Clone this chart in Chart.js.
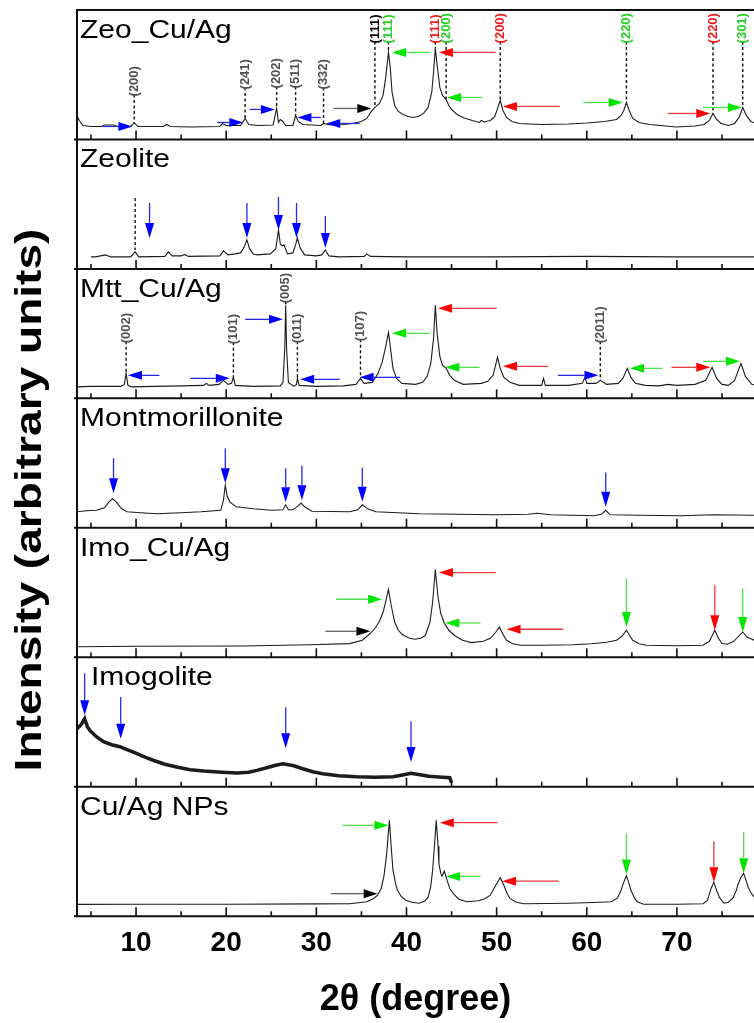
<!DOCTYPE html>
<html>
<head>
<meta charset="utf-8">
<script src="https://cdn.jsdelivr.net/npm/chart.js@4.4.1/dist/chart.umd.min.js"></script>
<style>
  html, body { margin: 0; padding: 0; background: #fff; overflow: hidden; }
  canvas { display: block; }
</style>
</head>
<body>
<canvas id="xrd" width="754" height="1023"></canvas>
<script>
// 2θ window and labelled ticks
const xMin = 3.45, xMax = 78.55;
const tickLabels = [10, 20, 30, 40, 50, 60, 70];

// panels, top to bottom
const panelNames = ['Zeo_Cu/Ag', 'Zeolite', 'Mtt_Cu/Ag', 'Montmorillonite', 'Imo_Cu/Ag', 'Imogolite', 'Cu/Ag NPs'];

// patterns as [2θ, intensity]; intensity in panel units (0 = panel floor, 129.4 = panel top)
const zeoCuAg = [[3.45,24],[3.7,19],[4.1,14],[5.0,13],[6.2,13],[6.5,14.5],[7.5,14.5],[8.0,13],[9.4,13],[9.8,16.5],[10.2,13],
  [13.0,13],[13.4,15],[13.8,13],[16.0,12.5],[19.3,13],[19.6,16],[20.0,14],[21.6,14],[22.1,21],[22.5,15],[23.5,14],
  [25.2,14.5],[25.6,31],[25.8,17],[26.0,20],[26.3,18],[26.6,14],[27.4,14],[27.7,24],[28.0,18],[28.5,15],[30.5,14],
  [30.8,16],[31.5,14.5],[33.0,15],[34.0,16],[35.0,18],[35.6,21],[36.1,28],[36.5,32],[37.0,36],[37.4,44],[37.7,62],
  [38.0,87],[38.2,72],[38.4,47],[38.7,34],[39.1,28],[39.6,25],[40.2,23],[40.7,22],[41.3,23],[41.9,26],[42.4,32],
  [42.8,47],[43.0,67],[43.2,91],[43.4,74],[43.7,52],[44.0,44],[44.4,40],[44.7,34],[45.0,30],[45.6,25],[46.4,21.5],
  [47.3,19],[48.1,17],[48.3,19],[48.6,17.5],[49.3,19],[49.8,23],[50.1,31],[50.4,39],[50.7,29],[51.1,22],[51.7,18],
  [52.5,16],[55.0,15],[58.0,15.5],[60.0,16.5],[62.0,18],[63.3,20],[63.8,24],[64.1,29],[64.4,37],[64.7,29],[65.1,21],
  [65.8,17],[67.0,15],[69.9,12.5],[72.0,13.5],[73.0,15],[73.6,19],[74.0,26],[74.4,20],[74.9,16],[75.7,14],[76.4,16],
  [76.9,22],[77.3,32],[77.7,24],[78.2,18],[79.0,15]];

const zeolite = [[5.0,12],[5.5,12],[6.6,14],[7.2,12],[9.4,12],[9.9,17],[10.3,12],[13.2,12.5],[13.6,17],[14.0,13],
  [15.0,13],[15.4,14.5],[15.8,12.5],[19.3,13],[19.7,18],[20.2,14],[21.0,15],[21.6,16],[22.0,22],[22.3,29],[22.6,20],
  [23.0,15],[23.4,14],[24.9,15],[25.5,20],[25.8,39],[26.0,25],[26.2,23],[26.4,24],[26.8,15],[27.4,16],[27.7,24],
  [27.9,31],[28.2,21],[28.7,14],[30.0,13],[30.6,14],[31.0,19],[31.4,13],[32.5,12],[35.3,12.5],[35.6,15],[36.0,12.5],
  [40,12],[50,12],[60,12.5],[70,12],[79,12]];

const mttCuAg = [[3.45,11.5],[5,12],[8.3,12],[8.7,14],[8.9,25],[9.1,13],[9.5,11.5],[12,12],[15,12.5],[17.5,13],[17.8,15],
  [18.1,13],[19.2,14],[19.7,18],[20.2,14],[20.6,15],[20.8,21.5],[21.0,13],[23,12],[26.0,12.5],[26.3,16],[26.5,50],
  [26.6,93],[26.7,50],[26.9,16],[27.5,12],[27.8,14],[27.9,20],[28.1,13],[30,12],[33,12.5],[34.4,14],[34.9,20],
  [35.3,15],[36.2,16],[36.8,24],[37.3,36],[37.7,52],[38.0,66],[38.2,52],[38.5,30],[38.9,20],[39.5,15],[41,14],
  [41.8,16],[42.3,22],[42.7,35],[43.0,60],[43.2,93],[43.4,65],[43.7,42],[44.0,33],[44.4,30],[44.8,23],[45.3,18],
  [46.3,14],[48.3,15],[49.0,17],[49.6,23],[50.1,41],[50.4,30],[50.8,21],[51.5,16],[52.5,13],[55.0,13],[55.2,20],
  [55.4,13],[58,13],[59.5,15],[59.8,21],[60.0,15],[61.0,15],[61.5,18],[62.2,14],[63.5,15],[64.0,20],[64.5,30],
  [64.9,21],[65.4,15],[66.5,13],[68,12.5],[69,14],[70,13],[72,14],[73.2,18],[73.9,31],[74.4,20],[75.0,14],[75.7,13],
  [76.4,18],[77.1,35],[77.6,22],[78.3,14],[79,13]];

const montmorillonite = [[3.45,16],[4.5,17],[5.6,17.5],[6.5,20],[7.0,26],[7.4,29],[7.8,26],[8.4,19],[9.0,16],[10.5,15],
  [12.3,14],[15,15],[17.2,16],[19.4,17.5],[19.7,28],[19.9,42.6],[20.1,32],[20.4,26],[21.1,21],[23,19],[25,17.5],
  [26.3,18],[26.6,23],[26.9,18],[27.4,18],[28.0,22],[28.3,24.8],[28.7,21],[29.5,16.5],[33.7,16],[34.6,18],[35.1,23],
  [35.7,19],[36.6,16],[41.4,14],[50,13],[53.5,13.5],[54.5,14.5],[56,13],[60.8,12],[61.6,13.5],[62.1,17.5],[62.6,13],
  [66,12.5],[70.4,12],[74,13],[79,12.5]];

const imoCuAg = [[3.45,10.5],[10,11],[22,11.3],[29.3,12.6],[33.7,13.7],[35.1,17],[36.0,24],[36.6,30],[37.0,36],[37.4,45],
  [37.7,56],[38.0,68],[38.3,52],[38.7,35],[39.1,27],[39.5,23],[40.2,19.5],[40.9,18],[41.6,19],[42.1,22],[42.6,35],
  [42.9,55],[43.2,87.7],[43.5,60],[43.8,44],[44.2,34],[44.7,27],[45.3,22],[46.2,17],[47.2,14.7],[48.5,16],[49.3,19],
  [49.9,25],[50.3,30.3],[50.7,23],[51.1,17],[51.8,13.5],[52.6,12],[55,12],[58.4,12.5],[60.5,13.5],[62.2,15],[63.3,17],
  [63.9,21],[64.4,27],[64.8,21],[65.1,17],[65.8,13.5],[66.6,12],[70,11.5],[72.9,12],[73.6,16],[74.2,27],[74.6,19],
  [75.0,13.7],[75.6,13],[76.3,16],[77.3,25.3],[77.8,20],[78.6,17],[79.5,13]];

const imogolite = [[3.45,58],[3.9,62],[4.3,68],[4.6,60],[4.9,56],[5.6,50],[6.4,45],[7.3,42],[8.2,40],[9.0,37],[10.1,33],
  [11.0,29.5],[11.9,26.5],[13.2,22.5],[14.5,19.7],[16.0,17],[17.5,15.7],[19.5,14.5],[21.2,13.7],[22.5,14.5],[23.4,16.4],
  [24.5,19],[25.5,21.5],[26.3,23],[27.5,21],[28.5,18],[29.6,15],[30.7,13],[32.5,11],[34.5,10],[36.5,9.5],[38.5,10],
  [39.7,12],[40.5,13.5],[41.5,12],[42.5,10.5],[44.0,9.5],[44.8,9],[45.0,4]];

const cuAgNPs = [[3.45,11.8],[10,12],[20,12],[30,12.3],[33.7,12.5],[35.6,14.5],[36.4,18],[36.8,21],[37.2,28],[37.5,40],
  [37.8,62],[38.1,95.8],[38.3,70],[38.5,46],[38.8,32],[39.0,26],[39.4,20],[39.9,16],[40.6,14],[41.4,13],[42.0,15],
  [42.4,19],[42.7,30],[42.9,46],[43.1,70],[43.3,95.8],[43.5,70],[43.6,52],[43.8,43],[43.95,40],[44.2,45],[44.5,36],
  [44.8,28],[45.2,22.5],[45.8,17],[46.7,14.5],[48.0,15.5],[48.7,17.5],[49.3,21],[49.9,31],[50.4,38.5],[50.8,31],
  [51.2,22],[51.5,17.5],[52.2,14],[53.0,12.5],[58,13],[61.5,14],[62.7,14.5],[63.4,18],[63.8,26],[64.1,34],[64.4,40.5],
  [64.7,32],[64.9,26],[65.3,18],[65.6,14.5],[66.3,12],[70,12],[72.9,12.5],[73.4,16],[73.6,22],[73.8,28],[74.1,34],
  [74.4,26],[74.7,19],[75.2,13],[75.7,14],[76.2,18],[76.6,26],[76.8,32.5],[77.1,39],[77.4,43],[77.7,35],[77.9,29],
  [78.3,22],[78.6,19],[79.2,14]];

const patterns = [zeoCuAg, zeolite, mttCuAg, montmorillonite, imoCuAg, imogolite, cuAgNPs];

// reflection labels: [panel, 2θ, text, colour key, height where the text starts]
const hklLabels = [
  [0, 9.8, '(200)', 'gray', 44], [0, 22.1, '(241)', 'gray', 51], [0, 25.6, '(202)', 'gray', 52],
  [0, 27.7, '(511)', 'gray', 52], [0, 30.8, '(332)', 'gray', 51],
  [0, 36.5, '(111)', 'black', 97], [0, 38.0, '(111)', 'green', 97], [0, 43.2, '(111)', 'red', 97],
  [0, 44.4, '(200)', 'green', 97], [0, 50.4, '(200)', 'red', 97], [0, 64.4, '(220)', 'green', 97],
  [0, 74.0, '(220)', 'red', 97], [0, 77.3, '(301)', 'green', 97],
  [2, 8.9, '(002)', 'gray', 56], [2, 20.8, '(101)', 'gray', 55], [2, 26.6, '(005)', 'gray', 96],
  [2, 27.9, '(011)', 'gray', 56], [2, 34.9, '(107)', 'gray', 58], [2, 61.5, '(2011)', 'gray', 56]
];

// unlabelled dotted marker: [panel, 2θ, from, to]
const dropLines = [[1, 9.9, 71, 19]];

// arrows: [panel, colour key, tail 2θ, tail height, head 2θ, head height]
const arrows = [
  [0,'blue',6.3,13,9.6,13], [0,'blue',19.0,17,21.9,17], [0,'blue',22.6,30,25.4,30], [0,'blue',30.5,22,27.9,22],
  [0,'blue',34.8,16,31.1,16], [0,'black',31.9,31,36.1,31], [0,'green',42.6,87,38.4,87], [0,'red',49.9,87,43.6,87],
  [0,'green',48.4,42,44.5,42], [0,'red',57.0,33,50.7,33], [0,'green',59.6,37,64.0,37], [0,'red',69.0,26,73.7,26],
  [0,'green',72.9,32,77.2,32],
  [1,'blue',11.5,66,11.5,31], [1,'blue',22.3,66,22.3,31], [1,'blue',25.8,72,25.8,39], [1,'blue',27.8,66,27.8,31],
  [1,'blue',31.0,53,31.0,21],
  [2,'blue',12.6,23,9.1,23], [2,'blue',16.0,20,20.4,20], [2,'blue',22.1,79,26.3,79], [2,'blue',32.6,19,28.2,19],
  [2,'blue',39.3,21,34.8,21], [2,'green',42.6,65,38.4,65], [2,'red',50.0,90,43.5,90], [2,'green',48.1,31,44.3,31],
  [2,'red',55.7,32,50.7,32], [2,'blue',56.8,23,61.3,23], [2,'green',68.4,30,64.8,30], [2,'red',69.4,31,73.7,31],
  [2,'green',72.9,37,77.0,37],
  [3,'blue',7.5,69.6,7.5,34.6], [3,'blue',19.9,79.6,19.9,44.6], [3,'blue',26.6,59.6,26.6,25.6],
  [3,'blue',28.4,62,28.4,27.6], [3,'blue',35.1,60,35.1,26], [3,'blue',62.1,55.3,62.1,21],
  [4,'green',32.2,58,37.3,58], [4,'black',31.0,26,36.0,26], [4,'red',49.9,84.7,43.6,84.7], [4,'green',48.2,34.3,44.3,34.3],
  [4,'red',57.4,28,51.1,28], [4,'green',64.4,78.7,64.4,30.3], [4,'red',74.2,72,74.2,27], [4,'green',77.3,68.7,77.3,25.3],
  [5,'blue',4.3,113.4,4.3,71.4], [5,'blue',8.3,89.7,8.3,48], [5,'blue',26.6,79.4,26.6,38.4], [5,'blue',40.5,65.4,40.5,24.7],
  [6,'green',32.9,90.8,38.0,90.8], [6,'red',50.1,93.5,43.7,93.5], [6,'green',48.2,39.8,44.4,39.8], [6,'red',56.9,35,50.6,35],
  [6,'black',31.6,22.5,36.8,22.5], [6,'green',64.4,82.5,64.4,41.8], [6,'red',74.1,75,74.1,34], [6,'green',77.4,84,77.4,43]
];

const FONT = '"Liberation Sans", Arial, Helvetica, sans-serif';
const textColors = { gray: '#505050', black: '#000000', green: '#22d022', red: '#ee1c1c' };
const arrowColors = {            // [shaft, head]
  blue:  ['#2a2ae6', '#0000ff'],
  green: ['#4ee04e', '#00e600'],
  red:   ['#ee3a3a', '#ff0000'],
  black: ['#606060', '#000000']
};

// read a pattern at a given 2θ (for the end of a label's leader line)
function curveAt(data, x) {
  for (let i = 1; i < data.length; i++) {
    if (data[i][0] >= x) {
      const [x0, y0] = data[i - 1], [x1, y1] = data[i];
      return y0 + (y1 - y0) * (x - x0) / (x1 - x0);
    }
  }
  return data[data.length - 1][1];
}

function drawArrow(ctx, x1, y1, x2, y2, shaft, head) {
  const ang = Math.atan2(y2 - y1, x2 - x1);
  const vertical = Math.abs(x2 - x1) < 1;
  const len = vertical ? 15 : 14, half = 4.5;
  const bx = x2 - len * Math.cos(ang), by = y2 - len * Math.sin(ang);
  ctx.strokeStyle = shaft;
  ctx.lineWidth = 1.3;
  ctx.beginPath();
  ctx.moveTo(x1, y1);
  ctx.lineTo(bx, by);
  ctx.stroke();
  ctx.fillStyle = head;
  ctx.beginPath();
  ctx.moveTo(x2, y2);
  ctx.lineTo(bx + half * Math.sin(ang), by - half * Math.cos(ang));
  ctx.lineTo(bx - half * Math.sin(ang), by + half * Math.cos(ang));
  ctx.closePath();
  ctx.fill();
}

const panelIds = panelNames.map((_, i) => 'p' + i);

// frames, inward ticks, names, reflections and arrows for every panel
const panelDecor = {
  id: 'panelDecor',
  afterDatasetsDraw(chart) {
    const ctx = chart.ctx, area = chart.chartArea, xs = chart.scales.x;
    const px = v => xs.getPixelForValue(v);
    ctx.save();

    // frame and separators
    ctx.strokeStyle = '#111';
    ctx.lineWidth = 2;
    ctx.beginPath();
    ctx.moveTo(area.left, area.top);
    ctx.lineTo(area.left, area.bottom);
    ctx.moveTo(area.left - 1, area.top);
    ctx.lineTo(area.right, area.top);
    panelIds.forEach(id => {
      const s = chart.scales[id];
      ctx.moveTo(area.left - 3, s.bottom);
      ctx.lineTo(area.right, s.bottom);
    });
    ctx.stroke();

    // ticks pointing up from each panel floor
    ctx.lineWidth = 1.6;
    ctx.beginPath();
    panelIds.forEach(id => {
      const s = chart.scales[id];
      for (let v = 5; v < xMax; v += 5) {
        const x = px(v), len = v % 10 === 0 ? 9 : 5;
        ctx.moveTo(x, s.bottom);
        ctx.lineTo(x, s.bottom - len);
      }
    });
    ctx.stroke();

    // panel names
    ctx.fillStyle = '#000';
    ctx.font = '25px ' + FONT;
    ctx.textAlign = 'left';
    ctx.textBaseline = 'alphabetic';
    panelIds.forEach((id, i) => {
      const s = chart.scales[id];
      const indent = panelNames[i] === 'Imogolite' ? 14 : 3;
      ctx.save();
      ctx.translate(area.left + indent, s.top + 28);
      ctx.scale(1.2, 1);
      ctx.fillText(panelNames[i], 0, 0);
      ctx.restore();
    });

    // dotted leader lines
    ctx.strokeStyle = '#111';
    ctx.lineWidth = 1.4;
    ctx.setLineDash([3, 2.5]);
    hklLabels.forEach(([p, x, , , hText]) => {
      const s = chart.scales[panelIds[p]];
      const top = s.getPixelForValue(hText) - 1, bottom = s.getPixelForValue(curveAt(patterns[p], x));
      if (bottom - top > 2) {
        ctx.beginPath();
        ctx.moveTo(px(x), top);
        ctx.lineTo(px(x), bottom);
        ctx.stroke();
      }
    });
    dropLines.forEach(([p, x, from, to]) => {
      const s = chart.scales[panelIds[p]];
      ctx.beginPath();
      ctx.moveTo(px(x), s.getPixelForValue(from));
      ctx.lineTo(px(x), s.getPixelForValue(to));
      ctx.stroke();
    });
    ctx.setLineDash([]);

    // reflection indices, read bottom to top
    ctx.font = 'bold 13px ' + FONT;
    ctx.textBaseline = 'middle';
    ctx.textAlign = 'left';
    hklLabels.forEach(([p, x, text, col, hText]) => {
      const s = chart.scales[panelIds[p]];
      ctx.save();
      ctx.translate(px(x), s.getPixelForValue(hText) + 1);
      ctx.rotate(-Math.PI / 2);
      ctx.fillStyle = textColors[col];
      ctx.fillText(text, 0, 0);
      ctx.restore();
    });

    // arrows
    arrows.forEach(([p, col, x1, y1, x2, y2]) => {
      const s = chart.scales[panelIds[p]];
      drawArrow(ctx, px(x1), s.getPixelForValue(y1), px(x2), s.getPixelForValue(y2),
        arrowColors[col][0], arrowColors[col][1]);
    });

    // shared intensity title
    ctx.save();
    ctx.translate(31, 500);
    ctx.rotate(-Math.PI / 2);
    ctx.scale(1.28, 1);
    ctx.font = 'bold 36px ' + FONT;
    ctx.textAlign = 'center';
    ctx.textBaseline = 'middle';
    ctx.fillStyle = '#000';
    ctx.fillText('Intensity (arbitrary units)', 0, 0);
    ctx.restore();

    ctx.restore();
  }
};

const scales = {
  x: {
    type: 'linear', min: xMin, max: xMax, position: 'bottom',
    grid: { display: false, drawTicks: false },
    border: { display: false },
    ticks: {
      stepSize: 10, includeBounds: false, autoSkip: false, maxRotation: 0, padding: 10, color: '#000',
      font: { family: FONT, size: 28, weight: 'bold' },
      callback: v => tickLabels.includes(v) ? String(v) : ''
    },
    title: {
      display: true, text: '2θ (degree)', color: '#000',
      font: { family: FONT, size: 36, weight: 'bold' },
      padding: { top: 9, bottom: 0 }
    }
  }
};
panelIds.forEach((id, i) => {
  scales[id] = {
    type: 'linear', position: 'left', stack: 'xrd', stackWeight: 1, weight: panelIds.length - i,
    min: 0, max: 129.4,
    ticks: { display: false },
    grid: { display: false, drawTicks: false },
    border: { display: false }
  };
});

new Chart(document.getElementById('xrd'), {
  type: 'line',
  data: {
    datasets: patterns.map((pat, i) => ({
      label: panelNames[i],
      data: pat.map(([x, y]) => ({ x, y })),
      yAxisID: panelIds[i],
      borderColor: '#1c1c1c',
      borderWidth: panelNames[i] === 'Imogolite' ? 3.5 : 1.1,
      pointRadius: 0,
      tension: 0,
      fill: false
    }))
  },
  options: {
    responsive: false,
    animation: false,
    devicePixelRatio: 1,
    layout: { padding: { left: 77, top: 10, right: 0, bottom: 1 } },
    plugins: { legend: { display: false }, tooltip: { enabled: false } },
    scales
  },
  plugins: [panelDecor]
});
</script>
</body>
</html>
